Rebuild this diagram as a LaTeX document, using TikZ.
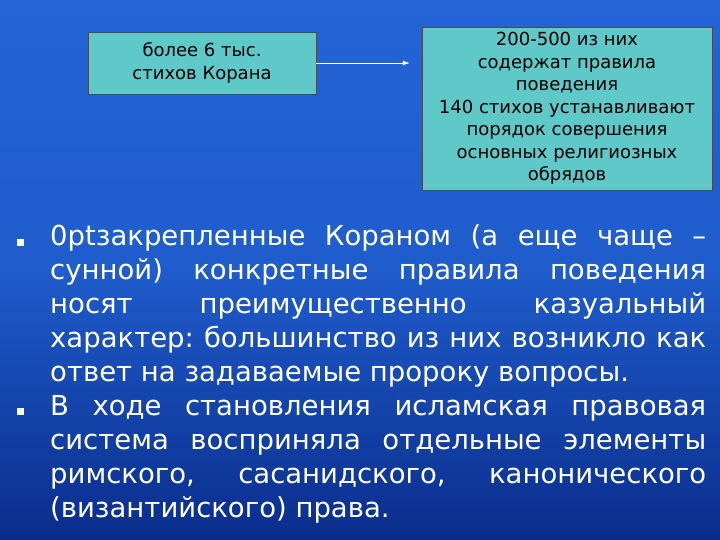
\documentclass[tikz,border=0pt]{standalone}
\usepackage{fontspec}
\setmainfont{DejaVu Sans}
\usetikzlibrary{arrows.meta}
\definecolor{boxc}{RGB}{95,200,200}
\definecolor{bgtop}{RGB}{35,100,215}
\definecolor{bgbot}{RGB}{10,45,140}
\tikzset{
 infobox/.style={draw=black!70, line width=0.4pt, fill=boxc, align=center, font=\fontsize{18}{22.5}\selectfont, inner sep=2pt},
 bullet/.style={fill=white, minimum size=7pt, inner sep=0pt},
 main/.style={text=white, anchor=north west, text width=656pt, align=justify, inner sep=0pt, font=\frenchspacing\fontsize{27.5}{34}\selectfont\spaceskip=0.3em plus 0.6em minus 0.18em\relax}
}
\begin{document}
\begin{tikzpicture}[x=1pt,y=1pt]
\shade[top color=bgtop, bottom color=bgbot, middle color=bgtop!85!bgbot] (0,0) rectangle (720,-540);
\useasboundingbox (0,0) rectangle (720,-540);
\node[infobox, minimum width=228pt, minimum height=62pt] (a) at (202,-63) {более 6 тыс.\\стихов Корана};
\node[infobox, minimum width=290pt, minimum height=163pt] (b) at (567,-108.5) {200-500 из них\\содержат правила\\поведения\\140 стихов устанавливают\\порядок совершения\\основных религиозных\\обрядов};
\draw[-{Latex[length=7pt,width=5pt]}, white, line width=0.8pt] (a.east) -- ([xshift=-12pt]b.west |- a.east);
\node[main] (t) at (50,-224) {закрепленные Кораном (а еще чаще –\linebreak сунной) конкретные правила поведения\linebreak носят преимущественно казуальный\linebreak характер: большинство из них возникло как\linebreak ответ на задаваемые пророку вопросы.\par
В ходе становления исламская правовая\linebreak система восприняла отдельные элементы\linebreak римского, сасанидского, канонического\linebreak (византийского) права.};
\node[bullet] (b1) at (20,-242) {};
\node[bullet] (b2) at (20,-411) {};
\end{tikzpicture}
\end{document}
